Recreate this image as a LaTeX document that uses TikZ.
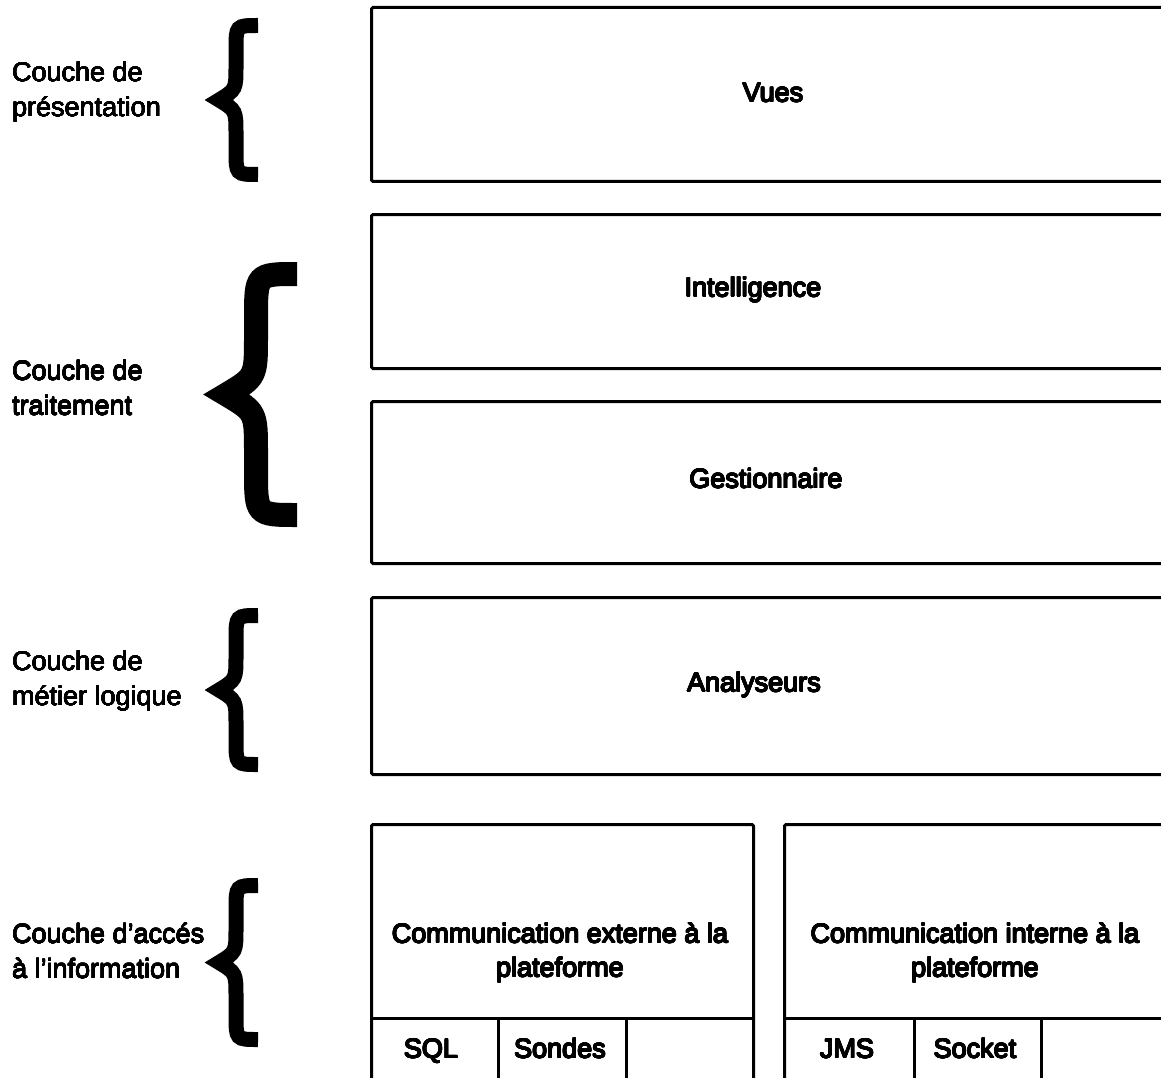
\documentclass[tikz,border=0pt]{standalone}
\usepackage{fontspec}
\setmainfont{Liberation Sans}
\usepackage[copies]{contour}
\contournumber{16}

% heavier text, thickened by outline copies
\newcommand{\heavy}[1]{{\contourlength{0.55pt}\contour{black}{#1}}}
\newcommand{\medium}[1]{{\contourlength{0.25pt}\contour{black}{#1}}}

% A thick curly brace: left tip x, right end x, spine x, top y, bottom y, stroke width
\newcommand{\layerbrace}[6]{%
  \pgfmathsetmacro{\bmid}{(#4+#5)/2}%
  \pgfmathsetmacro{\bh}{#6/2}%
  \pgfmathsetmacro{\bk}{(#3-#1)*1.5}%
  \pgfmathsetmacro{\bhook}{(#2-#3)*1.1}%
  \draw[bracestroke=#6]
    (#2,{#4+\bh}) .. controls (#3,{#4+\bh}) .. (#3,{#4+\bh+\bhook})
    -- (#3,{\bmid-\bk}) .. controls (#3,{\bmid-0.3*\bk}) .. ({#1+0.4*#6},\bmid)
    .. controls (#3,{\bmid+0.3*\bk}) .. (#3,{\bmid+\bk})
    -- (#3,{#5-\bh-\bhook}) .. controls (#3,{#5-\bh}) .. (#2,{#5-\bh});
}

\begin{document}
\begin{tikzpicture}[x=1pt,y=-1pt,
  layer/.style={draw, line width=3pt, rounded corners=1.5pt, inner sep=0pt, anchor=north west},
  cell/.style={draw, line width=2.8pt, inner sep=0pt, anchor=north west},
  side/.style={align=left, anchor=west, font=\fontsize{27}{35}\selectfont, inner sep=0pt},
  lbl/.style={align=center, font=\fontsize{27}{34}\selectfont, inner sep=0pt},
  cellbl/.style={anchor=base, font=\fontsize{27}{34}\selectfont, inner sep=0pt},
  bracestroke/.style={line width=#1, line cap=butt, line join=miter, draw=black}
]
\clip (0,0) rectangle (1161,1078);

% layer boxes (open to the right edge)
\node[layer, minimum width=830pt, minimum height=174pt] (vuesbox) at (370,6) {};
\node[layer, minimum width=830pt, minimum height=154pt] (intelbox) at (370,213) {};
\node[layer, minimum width=830pt, minimum height=162pt] (gestbox) at (370,400) {};
\node[layer, minimum width=830pt, minimum height=177pt] (anabox) at (370,596) {};
\node[layer, minimum width=382pt, minimum height=300pt] (extbox) at (370,823) {};
\node[layer, minimum width=420pt, minimum height=300pt] (intbox) at (783,823) {};

% protocol cells
\node[cell, minimum width=127pt, minimum height=100pt] (sqlcell) at (370,1017) {};
\node[cell, minimum width=128pt, minimum height=100pt] (sondcell) at (497,1017) {};
\node[cell, minimum width=127pt, minimum height=100pt] (extfree) at (625,1017) {};
\node[cell, minimum width=130pt, minimum height=100pt] (jmscell) at (783,1017) {};
\node[cell, minimum width=127pt, minimum height=100pt] (sockcell) at (913,1017) {};
\node[cell, minimum width=200pt, minimum height=100pt] (intfree) at (1040,1017) {};

% box labels
\node[lbl] (vues) at (773,93) {\heavy{Vues}};
\node[lbl] (intel) at (753,290) {\heavy{Intelligence}};
\node[lbl] (gest) at (766,479) {\heavy{Gestionnaire}};
\node[lbl] (ana) at (754,685) {\heavy{Analyseurs}};
\node[lbl] (ext) at (560,953) {\heavy{Communication externe à la}\\\heavy{plateforme}};
\node[lbl] (int) at (975,953) {\heavy{Communication interne à la}\\\heavy{plateforme}};
\node[cellbl] (sql) at (431,1058) {\heavy{SQL}};
\node[cellbl] (sondes) at (560,1058) {\heavy{Sondes}};
\node[cellbl] (jms) at (847,1058) {\heavy{JMS}};
\node[cellbl] (socket) at (975,1058) {\heavy{Socket}};

% layer names
\node[side] (pres) at (12,92) {\medium{Couche de}\\\medium{présentation}};
\node[side] (trait) at (12,388) {\medium{Couche de}\\\medium{traitement}};
\node[side] (metier) at (12,681) {\medium{Couche de}\\\medium{métier logique}};
\node[side] (acces) at (12,951) {\medium{Couche d'accés}\\\medium{à l'information}};

% braces
\layerbrace{213}{258}{236}{18}{182}{15}
\layerbrace{217}{297}{256}{262}{527}{24}
\layerbrace{213}{258}{236}{608}{772}{15}
\layerbrace{213}{258}{236}{878}{1047}{15}
\end{tikzpicture}
\end{document}
